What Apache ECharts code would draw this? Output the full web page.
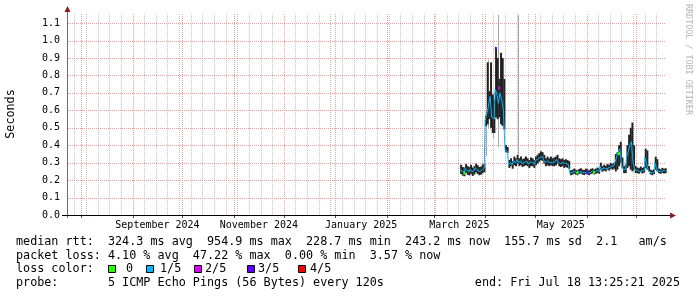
<!DOCTYPE html>
<html><head><meta charset="utf-8">
<script src="https://cdn.jsdelivr.net/npm/echarts@6/dist/echarts.min.js"></script>
<style>html,body{margin:0;padding:0;background:#fff;}#c{width:697px;height:297px;}</style>
</head><body><div id="c"></div>
<script>
// ---------- data ----------
const firstDay = '2025-03-17'; // one value per day from this date
const median = [
 0.262,0.250,0.245,0.268,0.255,0.250,0.262,0.248,0.256,0.272,0.260,0.250,0.255,0.266,0.270,
 0.54,0.58,0.62,0.68,0.56,0.55,0.72,0.70,0.64,0.70,0.66,0.60,0.37,0.365,
 0.29,0.30,0.285,0.31,0.30,0.32,0.30,0.31,0.295,0.30,0.31,0.30,0.29,0.305,0.30,0.29,0.31,0.32,0.33,0.34,0.335,0.32,0.30,0.31,0.30,0.31,0.30,0.305,0.31,0.32,0.30,0.295,0.30,0.29,0.295,0.29,0.285,
 0.240,0.245,0.250,0.245,0.240,0.248,0.252,0.245,0.242,0.250,0.246,0.240,0.248,0.252,0.245,0.250,0.255,0.250,
 0.28,0.262,0.27,0.265,0.275,0.27,0.28,0.275,0.282,
 0.30,0.33,0.36,0.38,0.29,0.26,0.26,0.33,0.36,0.40,0.42,0.30,0.26,
 0.255,0.25,0.26,0.252,0.258,
 0.33,0.30,0.26,
 0.245,0.24,0.248,
 0.30,0.27,
 0.252,0.248,0.255,0.25,0.253
];
const smokeLo = [
 0.235,0.226,0.222,0.242,0.230,0.227,0.236,0.224,0.232,0.245,0.235,0.228,0.232,0.240,0.246,
 0.51,0.52,0.55,0.50,0.47,0.47,0.56,0.55,0.56,0.52,0.51,0.49,0.36,0.355,
 0.27,0.28,0.265,0.285,0.28,0.295,0.28,0.285,0.275,0.28,0.285,0.28,0.27,0.28,0.28,0.27,0.285,0.295,0.305,0.315,0.31,0.295,0.28,0.285,0.28,0.285,0.28,0.28,0.285,0.295,0.28,0.275,0.28,0.27,0.275,0.27,0.265,
 0.228,0.232,0.237,0.232,0.228,0.235,0.238,0.232,0.229,0.236,0.233,0.228,0.235,0.238,0.232,0.236,0.241,0.237,
 0.26,0.248,0.255,0.25,0.26,0.255,0.265,0.26,0.265,
 0.25,0.26,0.28,0.30,0.27,0.24,0.24,0.27,0.28,0.26,0.25,0.26,0.24,
 0.24,0.237,0.245,0.238,0.243,
 0.27,0.26,0.25,
 0.232,0.228,0.235,
 0.26,0.25,
 0.24,0.236,0.242,0.238,0.24
];
const smokeHi = [
 0.288,0.275,0.272,0.292,0.280,0.275,0.288,0.272,0.280,0.294,0.285,0.275,0.278,0.290,0.294,
 0.57,0.875,0.71,0.875,0.69,0.66,0.955,0.90,0.78,0.93,0.90,0.78,0.40,0.39,
 0.315,0.325,0.31,0.335,0.325,0.345,0.325,0.335,0.32,0.325,0.335,0.325,0.315,0.33,0.325,0.315,0.335,0.345,0.355,0.365,0.36,0.345,0.325,0.335,0.325,0.335,0.325,0.33,0.335,0.345,0.325,0.32,0.325,0.315,0.32,0.315,0.31,
 0.256,0.26,0.266,0.26,0.256,0.264,0.268,0.26,0.258,0.266,0.262,0.256,0.264,0.268,0.26,0.266,0.272,0.266,
 0.30,0.28,0.288,0.282,0.292,0.288,0.298,0.292,0.30,
 0.35,0.36,0.40,0.42,0.33,0.28,0.29,0.40,0.46,0.50,0.53,0.40,0.28,
 0.272,0.268,0.278,0.27,0.275,
 0.38,0.37,0.28,
 0.26,0.256,0.262,
 0.334,0.32,
 0.266,0.262,0.27,0.265,0.268
];
// light grey outer smoke spikes
const spikeDays = ['2025-04-01','2025-04-02','2025-04-05','2025-04-08','2025-04-20'];
const spikeLo   = [0.34, 0.50, 0.44, 0.39, 0.35];
const spikeHi   = [0.60, 0.89, 0.70, 1.146, 1.146];
// median points drawn with a loss colour other than 1/5
const lossMarkDays   = ['2025-03-19','2025-04-07','2025-04-09','2025-05-26','2025-06-01','2025-06-05','2025-06-20'];
const lossMarkValues = [0.24, 0.955, 0.728, 0.242, 0.242, 0.244, 0.352];
const lossMarkLevels = [0, 3, 2, 0, 3, 0, 0];
const lossColors = ['#26ff00', '#00b8ff', '#dd00ff', '#5e00ff', '#ff0000'];
const lossNames  = ['0', '1/5', '2/5', '3/5', '4/5'];
// axes
const rangeStart = '2024-07-23T14:38:00Z';
const rangeEnd   = '2025-07-18T18:40:00Z';
const monthStarts = ['2024-08-01','2024-09-01','2024-10-01','2024-11-01','2024-12-01','2025-01-01',
                     '2025-02-01','2025-03-01','2025-04-01','2025-05-01','2025-06-01','2025-07-01','2025-08-01'];
const firstSunday = '2024-07-28';
const monthLabels = ['September 2024','November 2024','January 2025','March 2025','May 2025'];
const monthLabelIdx = [1, 3, 5, 7, 9]; // index into monthStarts
const yTicks = [0.1,0.2,0.3,0.4,0.5,0.6,0.7,0.8,0.9,1.0,1.1];
const Y_MAX = 1.158;

// ---------- helpers ----------
const DAY = 86400000;
const ts = s => Date.parse(s.length === 10 ? s + 'T00:00:00Z' : s);
const t0 = ts(rangeStart), t1 = ts(rangeEnd);
const d0 = ts(firstDay);
const bandData = median.map((m, i) => [d0 + i * DAY, smokeLo[i], smokeHi[i]]);
const medData = median.map((m, i) => [d0 + i * DAY + DAY / 2, m]);
const spikeData = spikeDays.map((d, i) => [ts(d) + DAY / 2, spikeLo[i], spikeHi[i]]);
const markData = lossMarkDays.map((d, i) => [ts(d) + DAY / 2, lossMarkValues[i], lossMarkLevels[i]]);
const monthTs = monthStarts.map(ts).filter(t => t >= t0 && t <= t1);
const weekTs = [];
for (let t = ts(firstSunday); t <= t1; t += 7 * DAY) weekTs.push(t);
const labelData = monthLabelIdx.map((mi, i) => [(ts(monthStarts[mi]) + ts(monthStarts[mi + 1])) / 2, 0, i]);

const MONO = '"DejaVu Sans Mono", monospace';
const GRID_RED = '#ec9a9a';
const GRID_GRAY = '#c4c4c4';

// grid drawn as 1px dots, pixel aligned
function dotsV(x, yTop, yBot, color) {
  const out = [];
  const xi = Math.round(x);
  for (let y = Math.round(yBot) - 1; y >= Math.round(yTop); y -= 2)
    out.push({type: 'rect', shape: {x: xi, y: y, width: 1, height: 1}, style: {fill: color}});
  return out;
}
function dotsH(y, xL, xR, color) {
  const out = [];
  const yi = Math.round(y);
  for (let x = Math.round(xL) + 1; x < Math.round(xR); x += 2)
    out.push({type: 'rect', shape: {x: x, y: yi, width: 1, height: 1}, style: {fill: color}});
  return out;
}
function vGrid(color) {
  return function (params, api) {
    const a = api.coord([api.value(0), 0]);
    const b = api.coord([api.value(0), Y_MAX]);
    return {type: 'group', children: dotsV(a[0], b[1], a[1], color)};
  };
}

const chart = echarts.init(document.getElementById('c'), null, {renderer: 'canvas'});
const option = {
  animation: false,
  backgroundColor: '#ffffff',
  grid: {left: 67, right: 31, top: 13, bottom: 82},
  xAxis: {type: 'value', min: t0, max: t1, axisLine: {show: false}, axisTick: {show: false},
          axisLabel: {show: false}, splitLine: {show: false}},
  yAxis: {type: 'value', min: 0, max: Y_MAX, interval: 0.1,
          axisLine: {show: false}, axisTick: {show: false}, splitLine: {show: false},
          axisLabel: {fontFamily: MONO, fontSize: 10, color: '#000', margin: 7, showMaxLabel: false,
                      formatter: v => (v > 1.12 ? '' : v.toFixed(1))}},
  series: [
    {type: 'custom', z: 1, silent: true, data: weekTs.map(t => [t, 0]), renderItem: vGrid(GRID_GRAY)},
    {type: 'custom', z: 2, silent: true, data: monthTs.map(t => [t, 0]), renderItem: vGrid(GRID_RED)},
    {type: 'custom', z: 2, silent: true, data: yTicks.map(v => [t0, v]),
     renderItem: function (params, api) {
       const a = api.coord([t0, api.value(1)]);
       const b = api.coord([t1, api.value(1)]);
       return {type: 'group', children: dotsH(a[1], a[0], b[0], GRID_RED)};
     }},
    // month ticks below axis
    {type: 'custom', z: 3, silent: true, clip: false, data: monthTs.map(t => [t, 0]),
     renderItem: function (params, api) {
       const a = api.coord([api.value(0), 0]);
       return {type: 'rect', shape: {x: Math.round(a[0]), y: Math.round(a[1]), width: 1, height: 3},
               style: {fill: '#9a3030'}};
     }},
    // month labels
    {type: 'custom', z: 3, silent: true, clip: false, data: labelData,
     renderItem: function (params, api) {
       const a = api.coord([api.value(0), 0]);
       return {type: 'text', x: a[0], y: a[1] + 10,
               style: {text: monthLabels[api.value(2)], font: '10px ' + MONO, fill: '#000',
                       align: 'center', verticalAlign: 'middle'}};
     }},
    // light grey spikes
    {type: 'custom', z: 4, silent: true, data: spikeData,
     renderItem: function (params, api) {
       const lo = api.coord([api.value(0), api.value(1)]);
       const hi = api.coord([api.value(0), api.value(2)]);
       return {type: 'rect', shape: {x: Math.round(lo[0]), y: hi[1], width: 1, height: lo[1] - hi[1]},
               style: {fill: '#a6a6a6'}};
     }},
    // dark smoke band
    {type: 'custom', z: 5, silent: true, data: bandData,
     renderItem: function (params, api) {
       const lo = api.coord([api.value(0), api.value(1)]);
       const hi = api.coord([api.value(0) + DAY, api.value(2)]);
       return {type: 'rect', shape: {x: lo[0], y: hi[1], width: hi[0] - lo[0] + 0.3, height: lo[1] - hi[1]},
               style: {fill: '#222222'}};
     }},
    // median line
    {type: 'line', z: 6, silent: true, data: medData, step: 'middle', symbol: 'none',
     lineStyle: {color: '#00b8ff', width: 1}},
    // loss colour marks
    {type: 'custom', z: 7, silent: true, data: markData,
     renderItem: function (params, api) {
       const p = api.coord([api.value(0), api.value(1)]);
       return {type: 'rect', shape: {x: p[0] - 1, y: p[1] - 1.5, width: 2, height: 3},
               style: {fill: lossColors[api.value(2)]}};
     }}
  ],
  graphic: []
};

// axes drawn as decorations
const G = [];
G.push({type: 'line', shape: {x1: 67.5, y1: 218, x2: 67.5, y2: 10}, style: {stroke: '#6e6e6e', lineWidth: 1}, z: 50});
G.push({type: 'polygon', shape: {points: [[64.5, 12], [70.5, 12], [67.5, 6]]}, style: {fill: '#8b1c1c'}, z: 51});
G.push({type: 'line', shape: {x1: 62, y1: 215.5, x2: 672, y2: 215.5}, style: {stroke: '#000', lineWidth: 1}, z: 50});
G.push({type: 'polygon', shape: {points: [[670, 212.5], [670, 218.5], [676, 215.5]]}, style: {fill: '#8b1c1c'}, z: 51});
G.push({type: 'text', x: 11, y: 114, rotation: Math.PI / 2,
        style: {text: 'Seconds', font: '11.75px ' + MONO, fill: '#000', align: 'center', verticalAlign: 'middle'}});
G.push({type: 'text', x: 688, y: 4, rotation: -Math.PI / 2,
        style: {text: 'RRDTOOL / TOBI OETIKER', font: '8.4px ' + MONO, fill: '#b4b4b4', align: 'left', verticalAlign: 'middle'}});
const LF = '11.75px ' + MONO;
const lines = [
  [241.5, 'median rtt:  324.3 ms avg  954.9 ms max  228.7 ms min  243.2 ms now  155.7 ms sd  2.1   am/s'],
  [255.5, 'packet loss: 4.10 % avg  47.22 % max  0.00 % min  3.57 % now'],
  [269, 'loss color:'],
  [283.3, 'probe:       5 ICMP Echo Pings (56 Bytes) every 120s']
];
lines.forEach(l => G.push({type: 'text', x: 16, y: l[0], style: {text: l[1], font: LF, fill: '#000', verticalAlign: 'middle'}}));
G.push({type: 'text', x: 680, y: 283.3, style: {text: 'end: Fri Jul 18 13:25:21 2025', font: LF, fill: '#000', align: 'right', verticalAlign: 'middle'}});
const boxX = [108, 146, 194, 247, 298];
const boxLabelX = [126, 160, 205, 258, 310];
lossNames.forEach((n, i) => {
  G.push({type: 'rect', shape: {x: boxX[i] + 0.5, y: 265.5, width: 7, height: 7}, style: {fill: lossColors[i], stroke: '#000', lineWidth: 1}});
  G.push({type: 'text', x: boxLabelX[i], y: 269, style: {text: n, font: LF, fill: '#000', verticalAlign: 'middle'}});
});
option.graphic = G;
chart.setOption(option);
</script></body></html>
